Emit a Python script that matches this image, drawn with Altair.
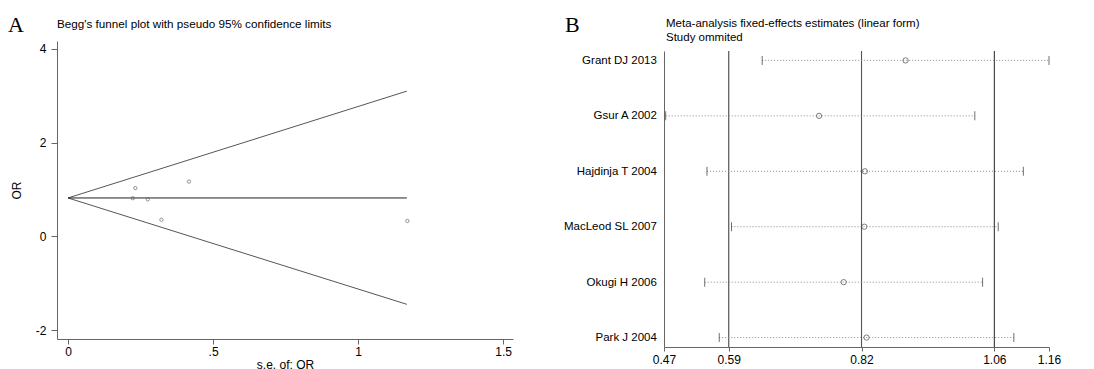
import altair as alt
import pandas as pd

# ---------------- Panel A: Begg's funnel plot ----------------
se_vals = [0.223, 0.232, 0.275, 0.322, 0.417, 1.170]
or_vals = [0.815, 1.030, 0.790, 0.355, 1.170, 0.330]
funnel_se = [0.0, 1.168]
funnel_upper = [0.82, 3.10]
funnel_lower = [0.82, -1.45]
funnel_center = [0.82, 0.82]
a_ticks_x = [0, 0.5, 1, 1.5]
a_ticks_y = [-2, 0, 2, 4]
a_title = "Begg's funnel plot with pseudo 95% confidence limits"

# ---------------- Panel B: leave-one-out ----------------
studies = ["Grant DJ 2013", "Gsur A 2002", "Hajdinja T 2004",
           "MacLeod SL 2007", "Okugi H 2006", "Park J 2004"]
est = [0.903, 0.748, 0.830, 0.829, 0.792, 0.833]
lower = [0.646, 0.473, 0.547, 0.591, 0.543, 0.569]
upper = [1.160, 1.027, 1.114, 1.069, 1.041, 1.097]
ref_values = [0.586, 0.824, 1.062]
b_ticks_x = [0.47, 0.586, 0.824, 1.062, 1.16]
b_title = "Meta-analysis fixed-effects estimates (linear form)\nStudy ommited"

FONT = "Liberation Sans"

# ---- Panel A chart ----
fdf = pd.DataFrame({
    "se": funnel_se * 3,
    "v": funnel_upper + funnel_lower + funnel_center,
    "g": ["u", "u", "l", "l", "c", "c"],
})
pdf = pd.DataFrame({"se": se_vals, "or": or_vals})

xa = alt.Scale(domain=[-0.038, 1.534], nice=False, zero=False)
ya = alt.Scale(domain=[-2.19, 4.17], nice=False, zero=False)

xaxis_a = alt.Axis(values=a_ticks_x, title="s.e. of: OR", grid=False,
                   labelExpr="datum.value == 0.5 ? '.5' : toString(datum.value)",
                   tickSize=5, labelPadding=2, minExtent=19, maxExtent=19,
                   titlePadding=1, labelFlush=False)
yaxis_a = alt.Axis(values=a_ticks_y, title="OR", grid=False,
                   labelExpr="toString(datum.value)",
                   tickSize=6, labelPadding=5, minExtent=24, maxExtent=24,
                   titlePadding=10)

lines_a = alt.Chart(fdf).mark_line(strokeWidth=1).encode(
    x=alt.X("se:Q", scale=xa, axis=xaxis_a),
    y=alt.Y("v:Q", scale=ya, axis=yaxis_a),
    detail="g:N",
    color=alt.Color("g:N", scale=alt.Scale(domain=["u", "l", "c"],
                                           range=["#555555", "#555555", "#222222"]),
                    legend=None),
)
pts_a = alt.Chart(pdf).mark_point(shape="circle", size=11, filled=False,
                                  color="#555555", strokeWidth=0.9).encode(
    x=alt.X("se:Q", scale=xa), y=alt.Y("or:Q", scale=ya))
lab_a = alt.Chart(pd.DataFrame({"t": ["A"]})).mark_text(
    font="Liberation Serif", fontSize=22, align="left", baseline="alphabetic",
    color="#000").encode(x=alt.value(-49), y=alt.value(-9.3), text="t:N")
tit_a = alt.Chart(pd.DataFrame({"t": [a_title]})).mark_text(
    font=FONT, fontSize=11.7, align="left", baseline="alphabetic",
    color="#000").encode(x=alt.value(0), y=alt.value(-13.3), text="t:N")

chart_a = alt.layer(lines_a, pts_a, lab_a, tit_a).properties(width=456, height=298)

# ---- Panel B chart ----
bdf = pd.DataFrame({"study": studies, "est": est, "lo": lower, "hi": upper})
rdf = pd.DataFrame({"v": ref_values, "k": ["a", "b", "c"],
                    "y0": [0, 0, 0], "y1": [1, 1, 1]})

xb = alt.Scale(domain=[0.47, 1.16], nice=False, zero=False)
yb = alt.Scale(type="point", domain=studies, padding=0.17, range=[10, 306])
yr = alt.Scale(domain=[0, 1], range=[306, 10])

xaxis_b = alt.Axis(values=b_ticks_x, format=".2f", title=None, grid=False,
                   tickSize=4, labelPadding=3, labelFlush=False)
yaxis_b = alt.Axis(title=None, ticks=False, labelPadding=7.6, grid=False,
                   labelFontSize=11.5)

refs = alt.Chart(rdf).mark_rule().encode(
    x=alt.X("v:Q", scale=xb, axis=xaxis_b),
    y=alt.Y("y0:Q", scale=yr, axis=None), y2="y1:Q",
    color=alt.Color("k:N", scale=alt.Scale(domain=["a", "b", "c"],
                                           range=["#222222", "#777777", "#333333"]),
                    legend=None),
    strokeWidth=alt.StrokeWidth("k:N", scale=alt.Scale(domain=["a", "b", "c"],
                                                       range=[1.2, 1, 1.6]),
                                legend=None),
)
base_b = alt.Chart(bdf)
ci = base_b.mark_rule(strokeDash=[1, 2], color="#8a8a8a", strokeWidth=1).encode(
    x=alt.X("lo:Q", scale=xb), x2="hi:Q",
    y=alt.Y("study:N", scale=yb, axis=yaxis_b, sort=studies))
cap_lo = base_b.mark_tick(size=9, thickness=1, color="#333").encode(
    x=alt.X("lo:Q", scale=xb), y=alt.Y("study:N", scale=yb, sort=studies, axis=None))
cap_hi = base_b.mark_tick(size=9, thickness=1, color="#333").encode(
    x=alt.X("hi:Q", scale=xb), y=alt.Y("study:N", scale=yb, sort=studies, axis=None))
pts_b = base_b.mark_point(shape="circle", size=28, filled=False, color="#444",
                          strokeWidth=1).encode(
    x=alt.X("est:Q", scale=xb), y=alt.Y("study:N", scale=yb, sort=studies, axis=None))
lab_b = alt.Chart(pd.DataFrame({"t": ["B"]})).mark_text(
    font="Liberation Serif", fontSize=22, align="left", baseline="alphabetic",
    color="#000").encode(x=alt.value(-99), y=alt.value(-9.3), text="t:N")
tit_b = alt.Chart(pd.DataFrame({"t": [b_title]})).mark_text(
    font=FONT, fontSize=11.5, align="left", baseline="alphabetic", lineBreak="\n",
    lineHeight=14, color="#000").encode(x=alt.value(2), y=alt.value(-14), text="t:N")

chart_b = alt.layer(refs, ci, cap_lo, cap_hi, pts_b, lab_b, tit_b).resolve_scale(
    y="independent").properties(width=385, height=306)

chart = alt.hconcat(chart_a, chart_b, spacing=50).properties(
    padding={"left": 0, "top": 5, "right": 0, "bottom": 0}
).configure_view(stroke=None).configure_axis(
    labelFont=FONT, labelFontSize=12, labelColor="#000",
    titleFont=FONT, titleFontSize=12, titleFontWeight="normal", titleColor="#000",
    domainColor="#666", tickColor="#666",
).configure_axisY(labelAngle=0)

chart.save("out.html", embed_options={"renderer": "svg", "actions": False})
